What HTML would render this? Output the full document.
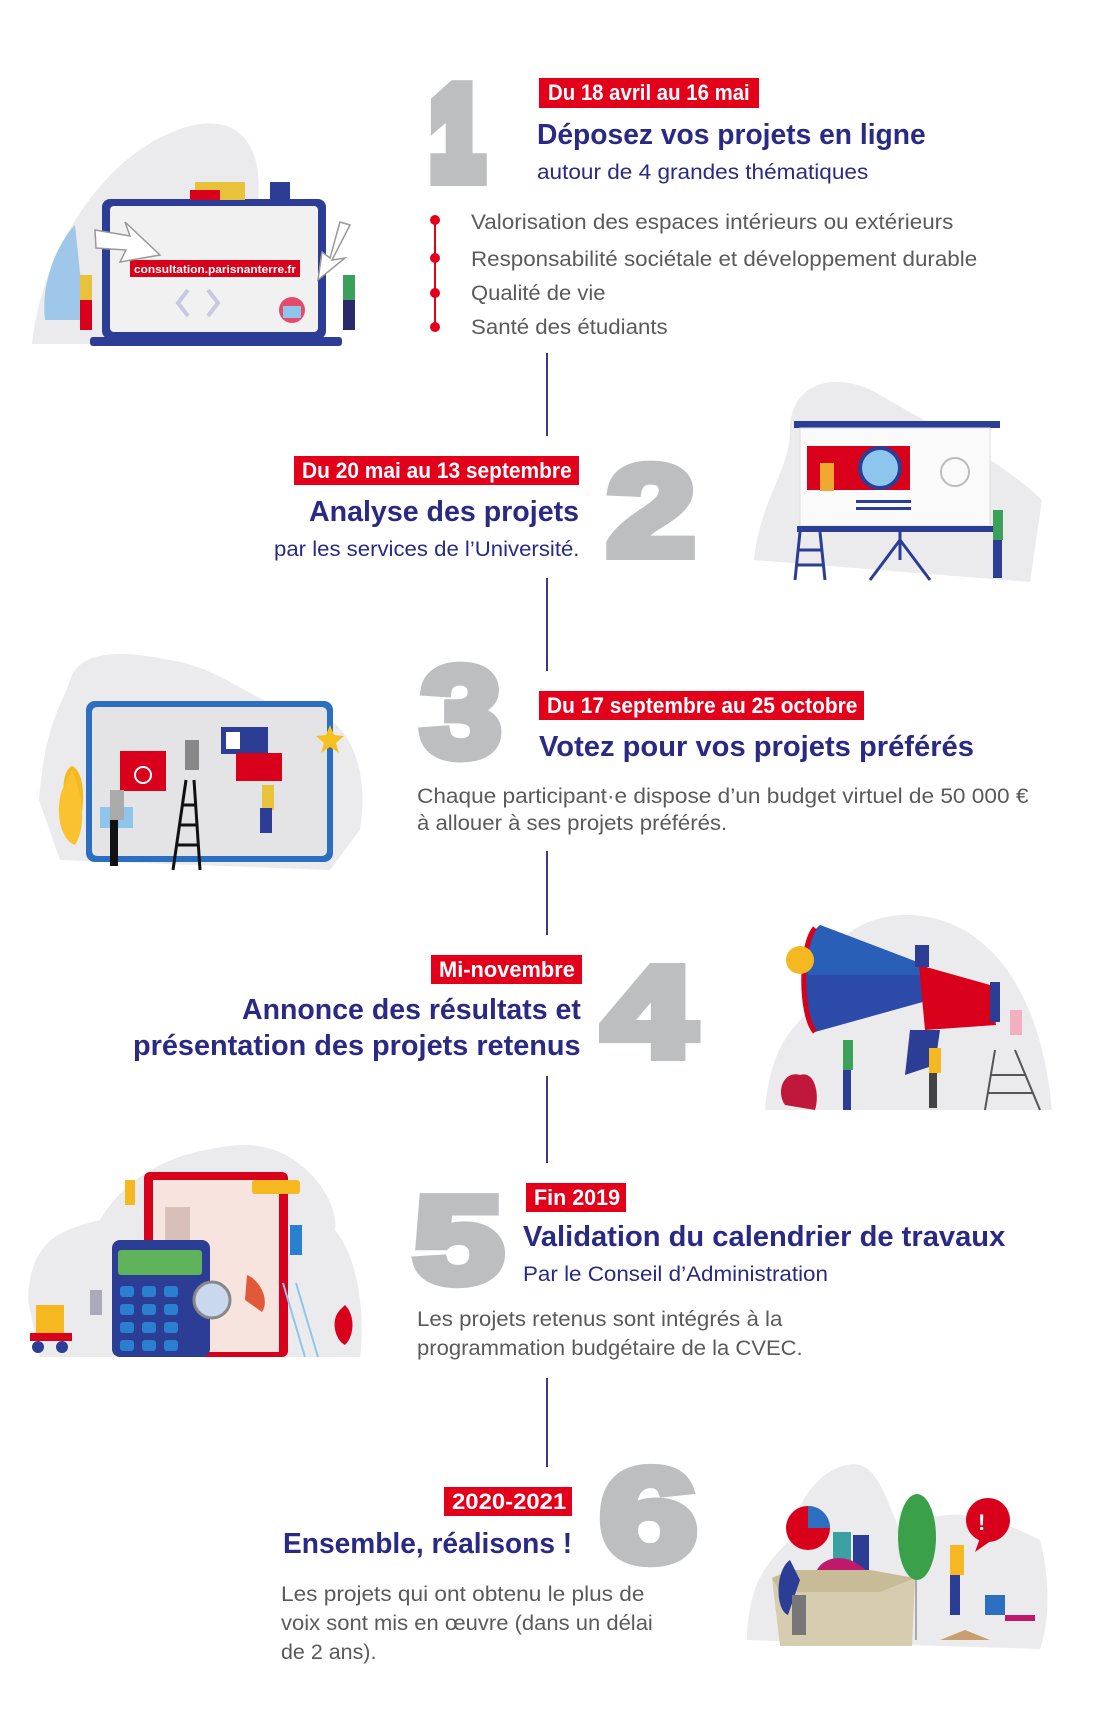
<!DOCTYPE html>
<html><head><meta charset="utf-8">
<style>
html,body{margin:0;padding:0;background:#fff;}
body{width:1100px;height:1718px;position:relative;overflow:hidden;font-family:"Liberation Sans",sans-serif;}
.t{position:absolute;white-space:nowrap;line-height:1;transform-origin:0 0;}
.ti{font-weight:bold;color:#2a2a84;font-size:29px;}
.su{color:#2a2a84;font-size:21px;}
.bo{color:#5a5a5a;font-size:21px;}
.bd{position:absolute;background:#e3001b;}
.bt{color:#fff;font-weight:bold;font-size:22px;}
.ln{position:absolute;left:546px;width:1.5px;background:#3a3a8a;}
svg{position:absolute;left:0;top:0;}
</style></head><body>

<svg width="1100" height="1718" viewBox="0 0 1100 1718">
<g fill="#bdbec0" stroke="#bdbec0" stroke-width="10" stroke-linejoin="miter" font-family="Liberation Sans" font-weight="bold">
<text x="432" y="176" font-size="124" textLength="50" lengthAdjust="spacingAndGlyphs" stroke-width="20">1</text>
<text x="607" y="555" font-size="128" textLength="88" lengthAdjust="spacingAndGlyphs">2</text>
<text x="421" y="756" font-size="128" textLength="80" lengthAdjust="spacingAndGlyphs">3</text>
<text x="603" y="1056" font-size="128" textLength="92" lengthAdjust="spacingAndGlyphs">4</text>
<text x="414" y="1282" font-size="122" textLength="89" lengthAdjust="spacingAndGlyphs">5</text>
<text x="600" y="1561" font-size="132" textLength="97" lengthAdjust="spacingAndGlyphs">6</text>
</g>

<path d="M32 344 C40 260 100 150 190 126 C250 112 262 160 258 200 L330 344 Z" fill="#ebebed"/>
<path d="M45 320 C40 280 60 240 75 225 L85 320 Z" fill="#9fc7ea"/>
<rect x="102" y="199" width="224" height="140" rx="8" fill="#2c3d96"/>
<rect x="110" y="206" width="208" height="126" rx="4" fill="#f1f1f2"/>
<rect x="90" y="337" width="252" height="9" rx="3" fill="#2c3d96"/>
<rect x="130" y="260" width="170" height="17" fill="#d8001a"/>
<text x="134" y="273" font-family="Liberation Sans" font-size="11" font-weight="bold" fill="#fff" textLength="162" lengthAdjust="spacingAndGlyphs">consultation.parisnanterre.fr</text>
<path d="M188 290 L178 303 L188 316 M208 290 L218 303 L208 316" stroke="#c8c8e0" stroke-width="4" fill="none"/>
<path d="M95 230 L130 236 L125 222 L160 255 L120 262 L126 250 L96 248 Z" fill="#fff" stroke="#999" stroke-width="1.5"/>
<path d="M350 225 L332 260 L345 258 L318 280 L322 252 L330 258 L340 222 Z" fill="#fff" stroke="#999" stroke-width="1.5"/>
<rect x="80" y="275" width="12" height="40" fill="#e8c23a"/><rect x="80" y="300" width="12" height="30" fill="#d8001a"/>
<rect x="343" y="275" width="12" height="30" fill="#3aa05a"/><rect x="343" y="300" width="12" height="30" fill="#2a2a6a"/>
<circle cx="292" cy="310" r="13" fill="#e64a6a"/><rect x="283" y="306" width="18" height="12" fill="#8ec5ec"/>
<rect x="195" y="182" width="50" height="18" fill="#e8c23a"/><rect x="190" y="190" width="30" height="10" fill="#d8001a"/><rect x="270" y="182" width="20" height="17" fill="#2c3d96"/>

<path d="M754 560 C760 500 790 470 790 430 C790 380 840 370 880 395 C940 430 1000 460 1042 500 L1030 582 Z" fill="#ebebed"/>
<rect x="794" y="421" width="206" height="7" fill="#2c3d96"/>
<rect x="800" y="428" width="190" height="98" fill="#fafafa" stroke="#ddd"/>
<rect x="807" y="446" width="103" height="44" fill="#d8001a"/>
<circle cx="880" cy="468" r="20" fill="#8ec5ec" stroke="#2c3d96" stroke-width="4"/>
<rect x="856" y="500" width="55" height="3" fill="#2c3d96"/><rect x="856" y="507" width="55" height="3" fill="#2c3d96"/>
<circle cx="955" cy="472" r="14" fill="none" stroke="#bbb" stroke-width="2"/>
<rect x="797" y="526" width="203" height="6" fill="#2c3d96"/>
<path d="M900 532 L900 560 M900 540 L870 580 M900 540 L930 580 M800 532 L795 580 M820 532 L825 580 M797 550 L823 550 M796 565 L824 565" stroke="#2c3d96" stroke-width="3"/>
<rect x="820" y="463" width="14" height="28" fill="#f0a830"/>
<rect x="993" y="510" width="10" height="30" fill="#3aa05a"/><rect x="993" y="540" width="9" height="38" fill="#2c3d96"/>

<path d="M39 800 C45 720 65 700 70 680 C80 650 120 650 170 660 C230 670 260 710 300 710 C350 712 370 770 360 830 L330 870 L60 860 Z" fill="#ebebed"/>
<rect x="86" y="701" width="247" height="161" rx="9" fill="#2c6fc0"/>
<rect x="92" y="707" width="235" height="149" rx="5" fill="#e4e4e6"/>
<rect x="120" y="751" width="46" height="40" fill="#d8001a"/>
<circle cx="143" cy="775" r="8" fill="none" stroke="#fff" stroke-width="2"/>
<rect x="221" y="727" width="47" height="27" fill="#2c3d96"/><rect x="226" y="732" width="14" height="17" fill="#fff"/>
<rect x="236" y="753" width="46" height="28" fill="#d8001a"/>
<rect x="100" y="807" width="33" height="21" fill="#8ec5ec"/>
<path d="M330 725 L334 735 L344 736 L336 743 L339 753 L330 747 L321 753 L324 743 L316 736 L326 735 Z" fill="#f5c020"/>
<path d="M72 820 C58 790 64 770 72 766 C82 770 88 795 78 830 Z" fill="#f5b820"/>
<path d="M62 790 C55 810 60 840 75 845 C85 830 85 800 72 770 Z" fill="#f9c22e"/>
<path d="M173 870 L186 780 M200 870 L194 780 M176 845 L198 845 M179 825 L196 825 M182 805 L195 805" stroke="#111" stroke-width="3"/>
<rect x="185" y="740" width="14" height="30" fill="#888"/><rect x="262" y="785" width="12" height="25" fill="#e8c23a"/><rect x="260" y="808" width="12" height="25" fill="#2c3d96"/>
<rect x="110" y="790" width="14" height="30" fill="#aaa"/><rect x="110" y="820" width="8" height="46" fill="#111"/>

<path d="M765 1110 C770 1050 790 1030 810 1010 C820 960 840 920 900 915 C980 912 1040 980 1052 1110 Z" fill="#ebebed"/>
<path d="M820 925 C800 940 795 1010 815 1032 L930 1000 L925 965 Z" fill="#2c4aa8"/>
<path d="M820 925 C810 935 805 960 808 975 L925 975 L925 965 Z" fill="#2a5fb8"/>
<path d="M815 928 C800 945 800 1015 815 1032" stroke="#d8001a" stroke-width="5" fill="none"/>
<path d="M919 965 L990 985 L996 1025 L925 1030 Z" fill="#d8001a"/>
<rect x="990" y="982" width="10" height="40" fill="#2c3d96"/>
<path d="M910 1030 L940 1030 L935 1065 L905 1075 Z" fill="#2c3d96"/>
<circle cx="800" cy="960" r="14" fill="#f5b820"/>
<path d="M785 1105 C775 1090 785 1070 800 1075 C815 1070 820 1095 815 1110 Z" fill="#c0183a"/>
<rect x="843" y="1040" width="10" height="30" fill="#3aa05a"/><rect x="843" y="1070" width="8" height="40" fill="#2c3d96"/>
<rect x="929" y="1048" width="12" height="25" fill="#f5b820"/><rect x="929" y="1073" width="8" height="35" fill="#444"/>
<rect x="1010" y="1010" width="12" height="25" fill="#f0b0c0"/>
<path d="M995 1050 L985 1110 M1015 1050 L1040 1110 M990 1075 L1025 1075 M987 1093 L1033 1093" stroke="#555" stroke-width="2"/>
<rect x="915" y="945" width="14" height="22" fill="#2c3d96"/>

<path d="M28 1300 C30 1240 60 1230 100 1220 C130 1170 180 1150 240 1145 C300 1142 340 1200 335 1230 C360 1260 365 1320 360 1357 L40 1357 Z" fill="#ebebed"/>
<rect x="144" y="1172" width="144" height="185" rx="6" fill="#d8001a"/>
<rect x="153" y="1180" width="126" height="172" fill="#f8e4de"/>
<rect x="165" y="1207" width="25" height="35" fill="#d8c0b8"/>
<rect x="252" y="1180" width="48" height="14" rx="3" fill="#f5b820"/>
<rect x="112" y="1240" width="98" height="117" rx="8" fill="#2c3d96"/>
<rect x="118" y="1250" width="84" height="25" rx="3" fill="#5fb35a"/>
<g fill="#2a7fd0">
<rect x="120" y="1286" width="14" height="11" rx="3"/><rect x="142" y="1286" width="14" height="11" rx="3"/><rect x="164" y="1286" width="14" height="11" rx="3"/>
<rect x="120" y="1304" width="14" height="11" rx="3"/><rect x="142" y="1304" width="14" height="11" rx="3"/><rect x="164" y="1304" width="14" height="11" rx="3"/>
<rect x="120" y="1322" width="14" height="11" rx="3"/><rect x="142" y="1322" width="14" height="11" rx="3"/><rect x="164" y="1322" width="14" height="11" rx="3"/>
<rect x="120" y="1340" width="14" height="11" rx="3"/><rect x="142" y="1340" width="14" height="11" rx="3"/><rect x="164" y="1340" width="14" height="11" rx="3"/>
</g>
<circle cx="212" cy="1300" r="18" fill="#c9d8ef" stroke="#888" stroke-width="3"/>
<path d="M247 1275 C260 1280 270 1300 262 1312 L245 1300 Z" fill="#e05a3a"/>
<rect x="36" y="1305" width="28" height="28" fill="#f5b820"/><rect x="30" y="1333" width="42" height="8" fill="#d8001a"/>
<circle cx="38" cy="1347" r="6" fill="#2c3d96"/><circle cx="62" cy="1347" r="6" fill="#2c3d96"/>
<path d="M283 1283 L305 1357 M296 1283 L318 1357" stroke="#8ec5ec" stroke-width="2"/>
<path d="M340 1310 C330 1320 335 1340 345 1345 C355 1335 355 1315 345 1305 Z" fill="#d8001a"/>
<rect x="290" y="1225" width="12" height="30" fill="#2a7fd0"/>
<rect x="125" y="1180" width="10" height="25" fill="#f5b820"/>
<rect x="90" y="1290" width="12" height="25" fill="#aab"/>

<path d="M747 1640 C748 1580 770 1560 790 1540 C800 1480 840 1460 860 1465 C880 1470 890 1510 900 1530 C950 1500 1000 1520 1040 1540 C1050 1580 1050 1620 1040 1649 Z" fill="#ebebed"/>
<circle cx="808" cy="1528" r="22" fill="#d8001a"/><path d="M808 1506 A22 22 0 0 1 830 1528 L808 1528 Z" fill="#2c6fc0"/>
<rect x="833" y="1532" width="18" height="45" fill="#3aa0a0"/><rect x="853" y="1535" width="16" height="40" fill="#2c3d96"/>
<path d="M815 1575 C820 1555 850 1550 870 1575 Z" fill="#c0186a"/>
<path d="M772 1578 L915 1578 L912 1646 L780 1646 Z" fill="#d6ccb0"/>
<path d="M772 1578 L790 1570 L870 1570 L915 1578 L880 1592 L780 1592 Z" fill="#c8bc98"/>
<rect x="915" y="1530" width="2" height="110" fill="#aaa"/>
<ellipse cx="917" cy="1537" rx="19" ry="43" fill="#3aa04a"/>
<circle cx="988" cy="1520" r="22" fill="#d8001a"/><path d="M980 1538 L975 1552 L992 1540 Z" fill="#d8001a"/>
<text x="978" y="1530" font-family="Liberation Sans" font-weight="bold" font-size="22" fill="#fff">!</text>
<path d="M790 1560 C775 1570 775 1610 788 1615 L800 1580 Z" fill="#2c3d96"/>
<rect x="792" y="1595" width="14" height="40" fill="#777"/>
<rect x="950" y="1545" width="14" height="30" fill="#f5b820"/><rect x="950" y="1575" width="10" height="40" fill="#2c3d96"/>
<rect x="985" y="1595" width="20" height="20" fill="#2c6fc0"/><rect x="1005" y="1615" width="30" height="6" fill="#c0186a"/>
<path d="M940 1640 L990 1640 L965 1630 Z" fill="#c8a070"/>
</svg>

<div class="bd" style="left:539px;top:78px;width:220px;height:30px"></div>
<div class="t bt" style="left:548px;top:82px" w="202">Du 18 avril au 16 mai</div>
<div class="bd" style="left:294px;top:456px;width:285px;height:29px"></div>
<div class="t bt" style="left:302px;top:460px" w="270">Du 20 mai au 13 septembre</div>
<div class="bd" style="left:539px;top:691px;width:325px;height:29px"></div>
<div class="t bt" style="left:547px;top:695px" w="310">Du 17 septembre au 25 octobre</div>
<div class="bd" style="left:431px;top:955px;width:151px;height:29px"></div>
<div class="t bt" style="left:439px;top:959px" w="136">Mi-novembre</div>
<div class="bd" style="left:526px;top:1183px;width:100px;height:29px"></div>
<div class="t bt" style="left:534px;top:1187px" w="86">Fin 2019</div>
<div class="bd" style="left:444px;top:1487px;width:128px;height:29px"></div>
<div class="t bt" style="left:452px;top:1491px" w="114">2020-2021</div>

<div class="t ti" style="left:537px;top:121px" w="389">Déposez vos projets en ligne</div>
<div class="t su" style="left:537px;top:162px" w="331">autour de 4 grandes thématiques</div>
<div style="position:absolute;left:434px;top:220px;width:1.5px;height:107px;background:#e3001b"></div>
<div style="position:absolute;left:430px;top:215px;width:10px;height:10px;border-radius:50%;background:#e3001b"></div>
<div style="position:absolute;left:430px;top:253px;width:10px;height:10px;border-radius:50%;background:#e3001b"></div>
<div style="position:absolute;left:430px;top:288px;width:10px;height:10px;border-radius:50%;background:#e3001b"></div>
<div style="position:absolute;left:430px;top:322px;width:10px;height:10px;border-radius:50%;background:#e3001b"></div>
<div class="t bo" style="left:471px;top:212px" w="482">Valorisation des espaces intérieurs ou extérieurs</div>
<div class="t bo" style="left:471px;top:249px" w="506">Responsabilité sociétale et développement durable</div>
<div class="t bo" style="left:471px;top:283px" w="134">Qualité de vie</div>
<div class="t bo" style="left:471px;top:317px" w="197">Santé des étudiants</div>

<div class="t ti" style="left:309px;top:498px" w="270">Analyse des projets</div>
<div class="t su" style="left:274px;top:539px" w="305">par les services de l’Université.</div>

<div class="t ti" style="left:539px;top:733px" w="435">Votez pour vos projets préférés</div>
<div class="t bo" style="left:417px;top:786px" w="611">Chaque participant·e dispose d’un budget virtuel de 50 000 €</div>
<div class="t bo" style="left:417px;top:813px" w="310">à allouer à ses projets préférés.</div>

<div class="t ti" style="left:242px;top:996px" w="339">Annonce des résultats et</div>
<div class="t ti" style="left:133px;top:1032px" w="448">présentation des projets retenus</div>

<div class="t ti" style="left:523px;top:1223px" w="482">Validation du calendrier de travaux</div>
<div class="t su" style="left:523px;top:1264px" w="305">Par le Conseil d’Administration</div>
<div class="t bo" style="left:417px;top:1309px" w="365">Les projets retenus sont intégrés à la</div>
<div class="t bo" style="left:417px;top:1338px" w="386">programmation budgétaire de la CVEC.</div>

<div class="t ti" style="left:283px;top:1530px" w="289">Ensemble, réalisons !</div>
<div class="t bo" style="left:281px;top:1584px" w="363">Les projets qui ont obtenu le plus de</div>
<div class="t bo" style="left:281px;top:1613px" w="372">voix sont mis en œuvre (dans un délai</div>
<div class="t bo" style="left:281px;top:1642px" w="95">de 2 ans).</div>

<div class="ln" style="top:353px;height:83px"></div>
<div class="ln" style="top:578px;height:93px"></div>
<div class="ln" style="top:851px;height:84px"></div>
<div class="ln" style="top:1076px;height:87px"></div>
<div class="ln" style="top:1378px;height:89px"></div>

<script>
document.querySelectorAll('.t[w]').forEach(function(e){
  var w=parseFloat(e.getAttribute('w'));var a=e.scrollWidth;
  if(a>0)e.style.transform='scaleX('+(w/a)+')';
});
</script>
</body></html>
